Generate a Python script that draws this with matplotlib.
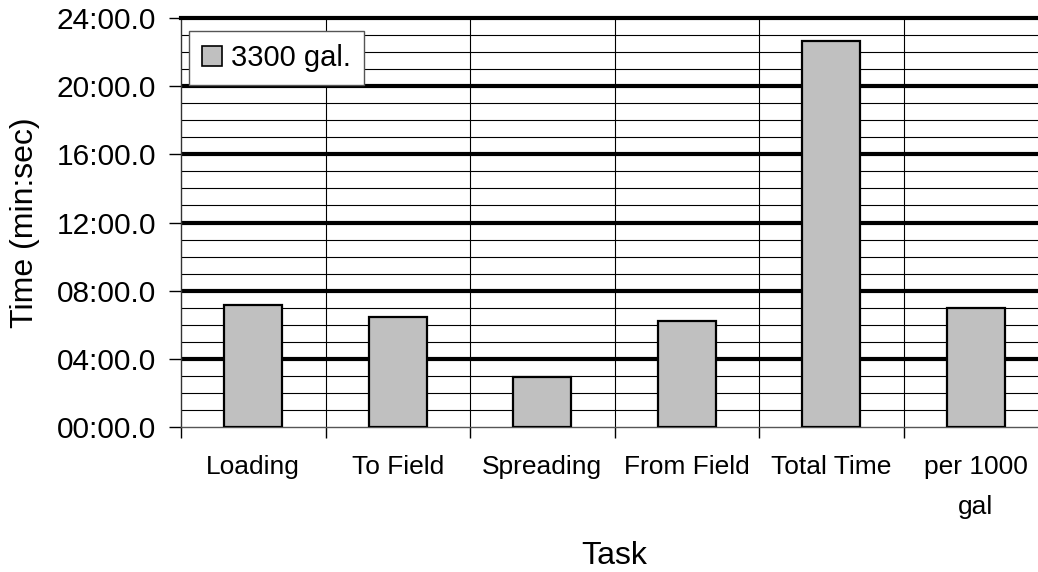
import matplotlib
matplotlib.use("Agg")
import matplotlib.pyplot as plt
from matplotlib.ticker import FuncFormatter, MultipleLocator, FixedLocator

plt.rcParams['font.family'] = ['Liberation Sans', 'DejaVu Sans']

categories = ["Loading", "To Field", "Spreading", "From Field", "Total Time", "per 1000\ngal"]
seconds_3300 = [430, 387, 176, 372, 1358, 419]
series_name = "3300 gal."

fig = plt.figure(figsize=(10.38, 5.72), dpi=100)
ax = fig.add_axes([181/1038, 1-427/572, (1048-181)/1038, (427-18)/572])

x = list(range(len(categories)))
ax.bar(x, seconds_3300, width=0.4, color="#C0C0C0", edgecolor="black",
       linewidth=1.6, zorder=3, label=series_name)

ax.set_xlim(-0.5, len(categories) - 0.5)
ax.set_ylim(0, 24 * 60)

def fmt(v, pos):
    v = int(round(v))
    return f"{v // 60:02d}:{v % 60:02d}.0"

ax.yaxis.set_major_locator(MultipleLocator(240))
ax.yaxis.set_minor_locator(MultipleLocator(60))
ax.yaxis.set_major_formatter(FuncFormatter(fmt))

ax.set_xticks(x)
ax.set_xticklabels(categories, fontsize=19, linespacing=1.85)
ax.xaxis.set_minor_locator(FixedLocator([i - 0.5 for i in range(len(categories) + 1)]))
ax.tick_params(axis='x', which='major', length=0, pad=20)
ax.tick_params(axis='x', which='minor', length=8, width=1, direction='out', color='black')
ax.tick_params(axis='y', which='major', length=9, width=1, direction='out', labelsize=21.5, pad=9)
ax.tick_params(axis='y', which='minor', length=0)

# grid lines
for v in range(60, 24 * 60, 60):
    if v % 240 == 0:
        ax.axhline(v, color='black', linewidth=3.0, zorder=1)
    else:
        ax.axhline(v, color='black', linewidth=0.8, zorder=1)
for i in range(1, len(categories)):
    ax.axvline(i - 0.5, color='black', linewidth=0.8, zorder=1)

ax.spines['right'].set_visible(False)
ax.spines['top'].set_linewidth(3.0)
ax.spines['left'].set_linewidth(1.0)
ax.spines['left'].set_color('#333333')
ax.spines['bottom'].set_linewidth(1.0)
ax.spines['bottom'].set_color('#555555')

ax.set_ylabel("Time (min:sec)", fontsize=23)
ax.yaxis.set_label_coords((40 - 181) / 867, 0.5)
ax.set_xlabel("Task", fontsize=23, labelpad=16)

leg = ax.legend(loc='upper left', bbox_to_anchor=(8/867, 1 - 13/409), fontsize=21,
                frameon=True, fancybox=False, handlelength=0.69, handleheight=0.69,
                handletextpad=0.31, borderpad=0.45, borderaxespad=0)
leg.get_frame().set_edgecolor('#555555')
leg.get_frame().set_linewidth(1.0)
leg.get_frame().set_alpha(1)
for h in leg.legend_handles:
    h.set_linewidth(1.2)

fig.savefig("out.png", dpi=100)
